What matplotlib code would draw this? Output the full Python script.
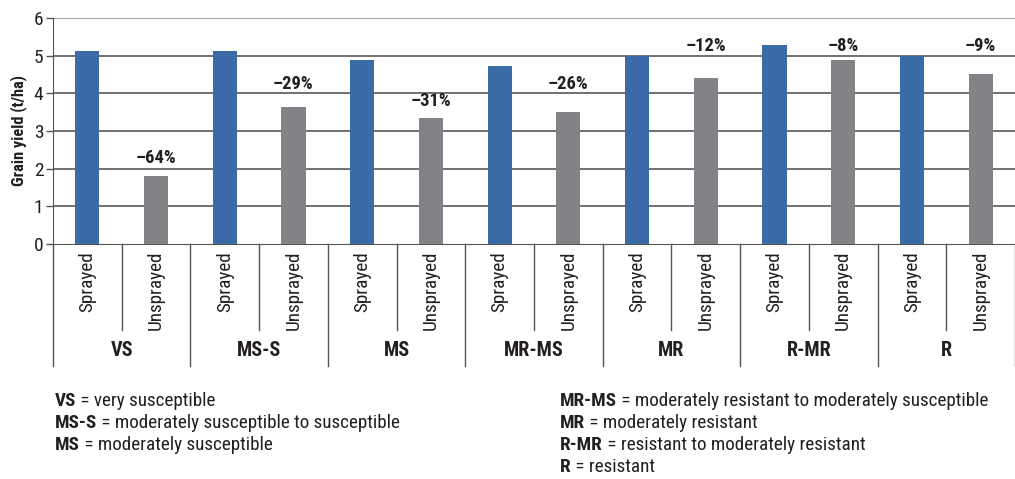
import matplotlib
matplotlib.use("Agg")
import matplotlib.pyplot as plt
from matplotlib.transforms import blended_transform_factory
from matplotlib import font_manager

# Rust resistance ratings and grain yield (t/ha), sprayed vs unsprayed
ratings = ["VS", "MS-S", "MS", "MR-MS", "MR", "R-MR", "R"]
sprayed = [5.12, 5.12, 4.88, 4.72, 5.00, 5.28, 5.00]
unsprayed = [1.80, 3.64, 3.35, 3.50, 4.41, 4.88, 4.51]
loss_labels = ["–64%", "–29%", "–31%", "–26%", "–12%", "–8%", "–9%"]
loss_label_y = [2.28, 4.25, 3.80, 4.25, 5.26, 5.26, 5.26]
treatments = ["Sprayed", "Unsprayed"]
yticks = [0, 1, 2, 3, 4, 5, 6]

key_left = [("VS", "very susceptible"),
            ("MS-S", "moderately susceptible to susceptible"),
            ("MS", "moderately susceptible")]
key_right = [("MR-MS", "moderately resistant to moderately susceptible"),
             ("MR", "moderately resistant"),
             ("R-MR", "resistant to moderately resistant"),
             ("R", "resistant")]

names = {f.name for f in font_manager.fontManager.ttflist}
family = "Liberation Sans Narrow" if "Liberation Sans Narrow" in names else "Roboto Condensed" if "Roboto Condensed" in names else "Liberation Sans"
plt.rcParams["font.family"] = [family, "DejaVu Sans"]

BLUE = "#3a6ba6"
GREY = "#818386"
INK = "#231f20"

fig = plt.figure(figsize=(10.15, 4.79), dpi=100)
ax = fig.add_axes([53 / 1015, 1 - 244 / 479, 1 - 53 / 1015, (244 - 18) / 479])

n = len(ratings)
xs_s = [2 * i for i in range(n)]
xs_u = [2 * i + 1 for i in range(n)]
ax.bar(xs_s, sprayed, width=0.35, color=BLUE, zorder=3)
ax.bar(xs_u, unsprayed, width=0.35, color=GREY, zorder=3)

for x, lab, ly in zip(xs_u, loss_labels, loss_label_y):
    ax.text(x, ly, lab, ha="center", va="center", fontsize=13.3, fontweight="bold", color=INK)

ax.set_xlim(-0.5, 2 * n - 0.5)
ax.set_ylim(0, 6)
ax.set_yticks(yticks)
ax.set_yticklabels([str(v) for v in yticks], fontsize=14, color=INK)
ax.tick_params(axis="y", length=5, width=1, color="#555555", pad=2)
ax.set_xticks([])
for y in yticks[1:-1]:
    ax.axhline(y, color="#4a4a4a", lw=1.1, zorder=1)
ax.axhline(6, color="#8a8a8a", lw=1.1, zorder=1)
for s in ["top", "right"]:
    ax.spines[s].set_visible(False)
ax.spines["left"].set_color("#555555")
ax.spines["bottom"].set_color("#555555")
ax.set_ylabel("Grain yield (t/ha)", fontsize=11.8, fontweight="bold", color=INK, labelpad=5)

# category axis drawn beneath the plot
tr = blended_transform_factory(ax.transData, fig.transFigure)
y0 = 1 - 244 / 479
y_short = 1 - 330 / 479
y_long = 1 - 366 / 479
for k in range(2 * n + 1):
    x = k - 0.5
    ybot = y_long if k % 2 == 0 else y_short
    ax.add_line(plt.Line2D([x, x], [y0, ybot], transform=tr, color="#555555", lw=1, clip_on=False))
for i in range(n):
    for j, t in enumerate(treatments):
        ax.text(2 * i + j, 1 - 251 / 479, t, transform=tr, rotation=90, ha="center", va="top",
                fontsize=13.8, color=INK)
    ax.text(2 * i + 0.5, 1 - 350 / 479, ratings[i], transform=tr, ha="center", va="center",
            fontsize=14.5, fontweight="bold", color=INK)

def key(entries, x, y_start):
    for r, (abbr, desc) in enumerate(entries):
        y = 1 - (y_start + 22 * r) / 479
        t = fig.text(x / 1015, y, abbr, fontsize=13.8, fontweight="bold", va="center", color=INK)
        fig.canvas.draw()
        bb = t.get_window_extent()
        fig.text(bb.x1 / 1015, y, " = " + desc, fontsize=13.8, va="center", color=INK)

key(key_left, 55, 401)
key(key_right, 560, 401)

fig.savefig("out.png", dpi=100)
